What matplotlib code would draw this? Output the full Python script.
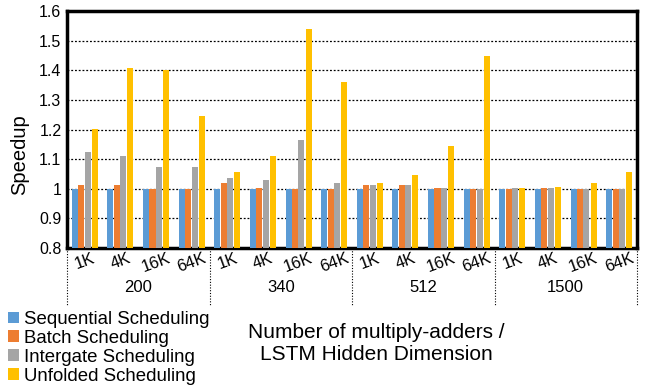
import matplotlib
matplotlib.use("Agg")
import matplotlib.pyplot as plt
import matplotlib.transforms as mtransforms
import numpy as np

plt.rcParams['font.family'] = ['Liberation Sans', 'DejaVu Sans']

groups = ["200", "340", "512", "1500"]
subcats = ["1K", "4K", "16K", "64K"]
series_names = ["Sequential Scheduling", "Batch Scheduling",
                "Intergate Scheduling", "Unfolded Scheduling"]
colors = ["#5B9BD5", "#ED7D31", "#A5A5A5", "#FFC000"]

sequential = [1.0, 1.0, 1.0, 1.0,
              1.0, 1.0, 1.0, 1.0,
              1.0, 1.0, 1.0, 1.0,
              1.0, 1.0, 1.0, 1.0]
batch = [1.011, 1.011, 1.0, 1.0,
         1.018, 1.004, 1.0, 1.0,
         1.011, 1.011, 1.004, 1.0,
         1.0, 1.004, 1.0, 1.0]
intergate = [1.125, 1.109, 1.075, 1.075,
             1.035, 1.028, 1.163, 1.018,
             1.011, 1.011, 1.004, 1.0,
             1.003, 1.004, 1.0, 1.0]
unfolded = [1.202, 1.408, 1.402, 1.247,
            1.055, 1.109, 1.540, 1.362,
            1.018, 1.045, 1.143, 1.449,
            1.003, 1.007, 1.018, 1.055]
series = [sequential, batch, intergate, unfolded]

fig = plt.figure(figsize=(6.46, 3.89), dpi=100)
ax = fig.add_axes([67/646, 1 - 248/389, (637-67)/646, (248-11)/389])

n = len(groups) * len(subcats)
x = np.arange(n)
bw = 0.17
offsets = [-0.28, -0.1, 0.08, 0.28]
for vals, off, c, name in zip(series, offsets, colors, series_names):
    ax.bar(x + off, np.array(vals) - 0.8, bw, bottom=0.8, color=c, label=name, zorder=3)

ax.set_ylim(0.8, 1.6)
ax.set_xlim(-0.5, n - 0.5)
yt = [0.8, 0.9, 1.0, 1.1, 1.2, 1.3, 1.4, 1.5, 1.6]
ax.set_yticks(yt)
ax.set_yticklabels(["0.8", "0.9", "1", "1.1", "1.2", "1.3", "1.4", "1.5", "1.6"], fontsize=11.5)
ax.tick_params(axis='y', length=0, pad=4)
for v in yt[1:-1]:
    ax.axhline(v, color='black', linestyle=(0, (1.5, 1.5)), linewidth=0.9, zorder=1)

ax.set_xticks(x)
ax.set_xticklabels(subcats * len(groups), rotation=20, fontsize=12)
ax.tick_params(axis='x', length=0, pad=2)

for s in ax.spines.values():
    s.set_linewidth(2.5)
    s.set_color('black')

fig.text(20/646, 1 - 155/389, "Speedup", rotation=90, ha='center', va='center', fontsize=14.5)

trans = mtransforms.blended_transform_factory(ax.transData, ax.transAxes)
for gi, g in enumerate(groups):
    ax.text(gi * 4 + 1.5, -(287 - 248) / 237, g, transform=trans, ha='center', va='center', fontsize=12)
for gi in range(len(groups) + 1):
    ax.plot([gi * 4 - 0.5, gi * 4 - 0.5], [0, -(305 - 248) / 237], transform=trans, clip_on=False,
            color='black', linestyle=(0, (1, 1.5)), linewidth=0.8)

fig.text(376/646, 1 - 343/389, "Number of multiply-adders /\nLSTM Hidden Dimension",
         ha='center', va='center', fontsize=15, linespacing=1.2)

leg = fig.legend(loc='upper left', bbox_to_anchor=(8/646, 1 - 311/389), frameon=False,
                 fontsize=13.4, handlelength=0.6, handleheight=0.6, handletextpad=0.25,
                 labelspacing=0.1, borderaxespad=0.0, borderpad=0.0)

fig.savefig("out.png", dpi=100)
